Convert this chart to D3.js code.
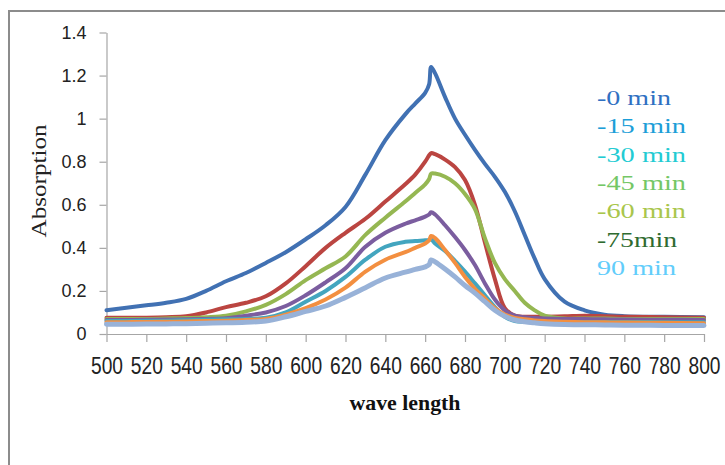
<!DOCTYPE html>
<html>
<head>
<meta charset="utf-8">
<script src="https://cdn.jsdelivr.net/npm/d3@7/dist/d3.min.js"></script>
<style>
  html, body { margin: 0; padding: 0; background: #fff; }
  svg { display: block; }
</style>
</head>
<body>
<svg id="chart" width="725" height="465"></svg>
<script>
// Wavelength grid (nm) shared by all spectra
const wavelengths = [500, 510, 520, 530, 540, 550, 560, 570, 580, 590, 600, 610, 620, 630, 640, 650, 655, 660, 662, 663, 665, 670, 675, 680, 685, 690, 695, 700, 705, 710, 715, 720, 730, 740, 750, 760, 780, 800];

// Absorption spectra recorded at each irradiation time
const abs0  = [0.11, 0.122, 0.133, 0.145, 0.163, 0.2, 0.245, 0.283, 0.33, 0.38, 0.44, 0.505, 0.59, 0.74, 0.9, 1.02, 1.07, 1.12, 1.16, 1.24, 1.21, 1.1, 1.0, 0.925, 0.855, 0.79, 0.73, 0.66, 0.57, 0.46, 0.35, 0.255, 0.15, 0.11, 0.09, 0.083, 0.08, 0.078];
const abs15 = [0.075, 0.075, 0.076, 0.078, 0.082, 0.1, 0.125, 0.145, 0.175, 0.235, 0.315, 0.4, 0.47, 0.535, 0.615, 0.695, 0.74, 0.8, 0.83, 0.84, 0.835, 0.81, 0.775, 0.715, 0.6, 0.425, 0.255, 0.12, 0.085, 0.08, 0.08, 0.08, 0.082, 0.085, 0.083, 0.08, 0.078, 0.075];
const abs30 = [0.07, 0.07, 0.07, 0.072, 0.074, 0.078, 0.085, 0.105, 0.135, 0.185, 0.25, 0.305, 0.36, 0.46, 0.54, 0.615, 0.655, 0.695, 0.72, 0.745, 0.745, 0.73, 0.7, 0.65, 0.58, 0.445, 0.33, 0.255, 0.2, 0.145, 0.11, 0.085, 0.072, 0.072, 0.072, 0.07, 0.07, 0.07];
const abs45 = [0.065, 0.065, 0.066, 0.067, 0.068, 0.07, 0.073, 0.085, 0.1, 0.13, 0.18, 0.24, 0.305, 0.405, 0.47, 0.512, 0.528, 0.545, 0.555, 0.565, 0.555, 0.505, 0.45, 0.39, 0.32, 0.235, 0.16, 0.11, 0.085, 0.078, 0.074, 0.072, 0.07, 0.07, 0.068, 0.067, 0.066, 0.065];
const abs60 = [0.06, 0.06, 0.061, 0.062, 0.064, 0.066, 0.068, 0.07, 0.075, 0.1, 0.15, 0.2, 0.265, 0.345, 0.405, 0.428, 0.432, 0.435, 0.437, 0.44, 0.42, 0.385, 0.34, 0.29, 0.235, 0.18, 0.125, 0.08, 0.06, 0.057, 0.055, 0.055, 0.055, 0.056, 0.056, 0.056, 0.055, 0.055];
const abs75 = [0.055, 0.055, 0.056, 0.057, 0.058, 0.06, 0.062, 0.065, 0.07, 0.09, 0.12, 0.16, 0.215, 0.29, 0.345, 0.38, 0.4, 0.42, 0.435, 0.455, 0.445, 0.39, 0.33, 0.265, 0.21, 0.165, 0.12, 0.09, 0.075, 0.068, 0.063, 0.06, 0.057, 0.055, 0.054, 0.053, 0.052, 0.05];
const abs90 = [0.045, 0.045, 0.046, 0.047, 0.048, 0.05, 0.052, 0.055, 0.06, 0.08, 0.105, 0.13, 0.17, 0.215, 0.26, 0.287, 0.3, 0.312, 0.322, 0.344, 0.335, 0.302, 0.265, 0.225, 0.19, 0.15, 0.11, 0.082, 0.065, 0.057, 0.052, 0.048, 0.044, 0.043, 0.042, 0.041, 0.04, 0.04];

const seriesValues = [abs0, abs15, abs30, abs45, abs60, abs75, abs90];
const seriesColors = ["#4171b3", "#bb4541", "#95b752", "#7b5d9f", "#43a5bf", "#f38f40", "#98b2d8"];

// Legend entries as printed beside the plot
const legendLabels = ["-0 min", "-15 min", "-30 min", "-45 min", "-60 min", "-75min", "90 min"];
const legendColors = ["#2f70c2", "#1c9ed8", "#22cbd3", "#74c766", "#a9c64c", "#2f6b30", "#62cdfb"];
const legendWidths = [74, 89, 89, 89, 89, 80, 79];

// Axis ticks
const xTicks = [500, 520, 540, 560, 580, 600, 620, 640, 660, 680, 700, 720, 740, 760, 780, 800];
const yTicks = [0, 0.2, 0.4, 0.6, 0.8, 1, 1.2, 1.4];
const yTickLabels = ["0", "0.2", "0.4", "0.6", "0.8", "1", "1.2", "1.4"];

const svg = d3.select("#chart");

// outer frame
svg.append("rect")
  .attr("x", 9).attr("y", 11)
  .attr("width", 740).attr("height", 480)
  .attr("fill", "none")
  .attr("stroke", "#8c8c8c")
  .attr("stroke-width", 2);

const x = d3.scaleLinear().domain([500, 800]).range([106.5, 704]);
const y = d3.scaleLinear().domain([0, 1.4]).range([334, 32.5]);

// y axis
const yAxis = svg.append("g")
  .attr("transform", `translate(${x.range()[0]},0)`)
  .call(d3.axisLeft(y).tickValues(yTicks).tickSize(7).tickSizeOuter(0).tickPadding(13)
    .tickFormat((d, i) => yTickLabels[i]));
yAxis.select(".domain").attr("stroke", "#a6a6a6").attr("stroke-width", 1.2);
yAxis.selectAll(".tick line").attr("stroke", "#a6a6a6").attr("stroke-width", 1.2);
yAxis.selectAll(".tick text")
  .attr("font-family", "'Liberation Sans', Arial, sans-serif")
  .attr("font-size", 18)
  .attr("fill", "#222");

// x axis
const xAxis = svg.append("g")
  .attr("transform", `translate(0,${y(0)})`)
  .call(d3.axisBottom(x).tickValues(xTicks).tickSize(8).tickSizeOuter(0).tickPadding(16));
xAxis.select(".domain").attr("stroke", "#a6a6a6").attr("stroke-width", 1.2);
xAxis.selectAll(".tick line").attr("stroke", "#a6a6a6").attr("stroke-width", 1.2);
xAxis.selectAll(".tick text")
  .attr("font-family", "'Liberation Sans', Arial, sans-serif")
  .attr("font-size", 23)
  .attr("fill", "#222")
  .attr("textLength", 32)
  .attr("lengthAdjust", "spacingAndGlyphs");

// spectra
const line = d3.line()
  .x((d, i) => x(wavelengths[i]))
  .y(d => y(d))
  .curve(d3.curveCatmullRom.alpha(0.5));

svg.append("g")
  .selectAll("path")
  .data(seriesValues)
  .join("path")
  .attr("d", d => line(d))
  .attr("fill", "none")
  .attr("stroke", (d, i) => seriesColors[i])
  .attr("stroke-width", (d, i) => i === 6 ? 5 : 4)
  .attr("stroke-linejoin", "round")
  .attr("stroke-linecap", "round");

// legend
svg.append("g")
  .selectAll("text")
  .data(legendLabels)
  .join("text")
  .attr("x", 597)
  .attr("y", (d, i) => 105 + i * 28.3)
  .attr("font-family", "'Liberation Serif', 'Times New Roman', serif")
  .attr("font-size", 21)
  .attr("fill", (d, i) => legendColors[i])
  .attr("textLength", (d, i) => legendWidths[i])
  .attr("lengthAdjust", "spacingAndGlyphs")
  .text(d => d);

// axis titles
svg.append("text")
  .attr("transform", "translate(46,181) rotate(-90)")
  .attr("text-anchor", "middle")
  .attr("font-family", "'Liberation Serif', 'Times New Roman', serif")
  .attr("font-size", 20)
  .attr("fill", "#222")
  .attr("textLength", 113)
  .attr("lengthAdjust", "spacingAndGlyphs")
  .text("Absorption");

svg.append("text")
  .attr("x", 405)
  .attr("y", 410)
  .attr("text-anchor", "middle")
  .attr("font-family", "'Liberation Serif', 'Times New Roman', serif")
  .attr("font-weight", "bold")
  .attr("font-size", 21)
  .attr("fill", "#111")
  .attr("textLength", 111)
  .attr("lengthAdjust", "spacingAndGlyphs")
  .text("wave length");
</script>
</body>
</html>
